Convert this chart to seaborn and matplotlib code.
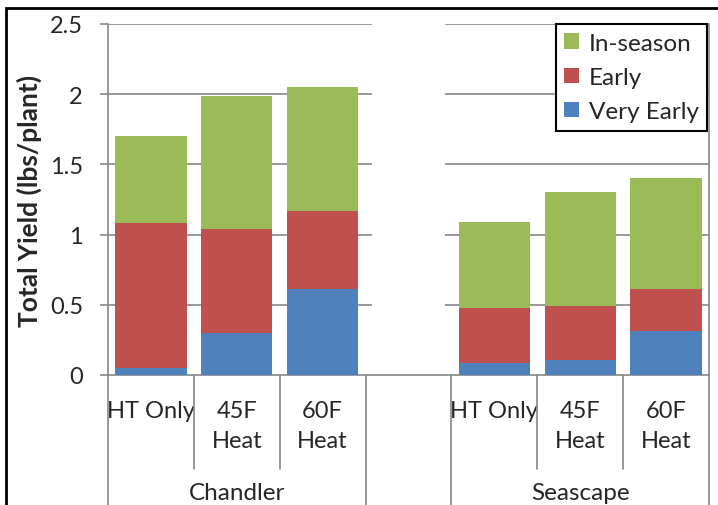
import seaborn as sns
import pandas as pd
import matplotlib.pyplot as plt
from matplotlib.patches import Rectangle, Patch
from matplotlib.lines import Line2D

# values
cultivars = ["Chandler", "Chandler", "Chandler", "Seascape", "Seascape", "Seascape"]
treatments = ["HT Only", "45F\nHeat", "60F\nHeat", "HT Only", "45F\nHeat", "60F\nHeat"]
very_early = [0.05, 0.30, 0.61, 0.085, 0.11, 0.31]
early = [1.03, 0.74, 0.56, 0.395, 0.38, 0.30]
in_season = [0.62, 0.95, 0.88, 0.61, 0.81, 0.79]

slots = ["c1", "c2", "c3", "gap", "s1", "s2", "s3"]
slot_labels = ["HT Only", "45F\nHeat", "60F\nHeat", "", "HT Only", "45F\nHeat", "60F\nHeat"]
groups = ["Chandler", "Seascape"]
yticks = [0, 0.5, 1, 1.5, 2, 2.5]

green, red, blue = "#9BBB59", "#C0504D", "#4F81BD"
grey = "#878787"

df = pd.DataFrame({
    "slot": [s for s in slots if s != "gap"],
    "cultivar": cultivars,
    "treatment": treatments,
    "very_early": very_early,
    "early": early,
    "in_season": in_season,
})
df["early_top"] = df["very_early"] + df["early"]
df["total"] = df["early_top"] + df["in_season"]

sns.set_style("white")
plt.rcParams["font.family"] = ["Lato", "DejaVu Sans"]

fig = plt.figure(figsize=(7.18, 5.06), dpi=100)
ax = fig.add_axes([108 / 718, 1 - 376 / 506, 601 / 718, 351 / 506])

# gridlines behind bars
for t in yticks[1:]:
    ax.axhline(t, color=grey, lw=1.2, zorder=0)

bw = 0.83
# white filler in the empty slot hides the gridlines
sns.barplot(x=["gap"], y=[2.5], order=slots, color="white", width=0.85,
            saturation=1, linewidth=0, ax=ax, zorder=1)
sns.barplot(data=df, x="slot", y="total", order=slots, color=green, width=bw,
            saturation=1, linewidth=0, errorbar=None, ax=ax, zorder=2)
sns.barplot(data=df, x="slot", y="early_top", order=slots, color=red, width=bw,
            saturation=1, linewidth=0, errorbar=None, ax=ax, zorder=3)
sns.barplot(data=df, x="slot", y="very_early", order=slots, color=blue, width=bw,
            saturation=1, linewidth=0, errorbar=None, ax=ax, zorder=4)

ax.set_xlim(-0.5, 6.5)
ax.set_ylim(0, 2.5)
ax.set_yticks(yticks)
ax.set_yticklabels(["0", "0.5", "1", "1.5", "2", "2.5"], fontsize=17)
ax.tick_params(axis="y", direction="out", length=6, width=1.2, color=grey, pad=12, left=True)
ax.set_xticks(range(7))
ax.set_xticklabels(slot_labels, fontsize=17, linespacing=1.5)
ax.tick_params(axis="x", length=0, pad=18)
ax.set_xlabel("")
ax.set_ylabel("Total Yield (lbs/plant)", fontsize=19, fontweight="bold", labelpad=6)

for side in ["left", "bottom", "right"]:
    ax.spines[side].set_color(grey)
    ax.spines[side].set_linewidth(1.2)
ax.spines["top"].set_visible(False)

# category separators below the axis
tr = ax.get_xaxis_transform()
for x in [-0.5, 2.5, 3.5, 6.5]:
    ax.add_line(Line2D([x, x], [0, -130 / 351], transform=tr, color=grey, lw=1.2, clip_on=False))
for x in [0.5, 1.5, 4.5, 5.5]:
    ax.add_line(Line2D([x, x], [0, -94 / 351], transform=tr, color=grey, lw=1.2, clip_on=False))
for x, name in zip([1, 5], groups):
    ax.text(x, -117 / 351, name, transform=tr, ha="center", va="center", fontsize=17.5)

handles = [Patch(facecolor=c, edgecolor="none") for c in [green, red, blue]]
leg = ax.legend(handles, ["In-season", "Early", "Very Early"], loc="upper right",
                bbox_to_anchor=(0.997, 1.0), borderaxespad=0, fontsize=17.5,
                fancybox=False, frameon=True, edgecolor="black", framealpha=1,
                handlelength=0.6, handleheight=0.6, handletextpad=0.4,
                labelspacing=0.55, borderpad=0.35)
leg.get_frame().set_linewidth(1.5)
leg.set_zorder(10)

# outer chart border
fig.patches.append(Rectangle((6 / 718, -0.1), 1.2, 1 - 9 / 506 + 0.1, transform=fig.transFigure,
                             fill=False, edgecolor="black", lw=2, clip_on=False))

fig.savefig("out.png", dpi=100)
